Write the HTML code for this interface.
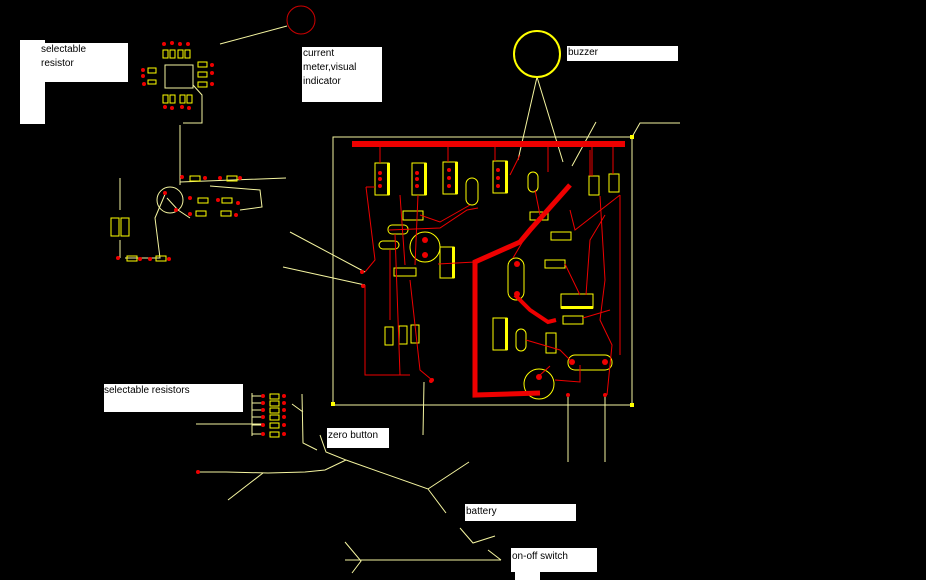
<!DOCTYPE html>
<html><head><meta charset="utf-8"><style>
html,body{margin:0;padding:0;background:#000;}
body{width:926px;height:580px;overflow:hidden;position:relative;font-family:"Liberation Sans",sans-serif;}
.w{position:absolute;background:#fff;}
.t{position:absolute;font-size:10px;color:#000;line-height:14px;}
svg{position:absolute;left:0;top:0;}
</style></head><body>
<div class="w" style="left:20px;top:40px;width:25px;height:84px"></div>
<div class="w" style="left:20px;top:43px;width:108px;height:39px"></div>
<div class="t" style="left:41px;top:43px">selectable<br>resistor</div>
<div class="w" style="left:302px;top:47px;width:80px;height:55px"></div>
<div class="t" style="left:303px;top:47px">current<br>meter,visual<br>indicator</div>
<div class="w" style="left:567px;top:46px;width:111px;height:15px"></div>
<div class="t" style="left:568px;top:46px">buzzer</div>
<div class="w" style="left:104px;top:384px;width:139px;height:28px"></div>
<div class="t" style="left:104px;top:384px">selectable resistors</div>
<div class="w" style="left:327px;top:428px;width:62px;height:20px"></div>
<div class="t" style="left:328px;top:429px">zero button</div>
<div class="w" style="left:465px;top:504px;width:111px;height:17px"></div>
<div class="t" style="left:466px;top:505px">battery</div>
<div class="w" style="left:511px;top:548px;width:86px;height:24px"></div>
<div class="w" style="left:515px;top:570px;width:25px;height:10px"></div>
<div class="t" style="left:512px;top:550px">on-off switch</div>
<svg width="926" height="580" viewBox="0 0 926 580">
<g stroke="#f5f5a0" fill="none" stroke-width="1">
<rect x="333" y="137" width="299" height="268"/>
<path d="M220 44L287 26M537 77L518 160M537 77L563 162M596 122L572 166M632 137L640 123L680 123M290 232L365 272M283 267L365 285M424 382L423 435M568 395L568 462M605 395L605 462"/>
<path d="M320 435L326 452L346 460L325 470L305 472L268 473L226 472L198 472M263 473L228 500M346 460L428 489L469 462M428 489L446 513M460 528L473 543L495 536M488 550L501 560M345 542L361 561L352 573M345 560L501 560M302 394L303 443L317 450M292 404L303 412M196 424L263 424M252 393L252 436"/>
<path d="M252 396L263 396M252 403L263 403M252 410L263 410M252 417L263 417M252 425L263 425M252 434L263 434"/>
<path d="M180 125L180 185M183 123L202 123L202 95L193 85M166 192L155 218L160 258L125 258M167 198L178 210L190 218M180 182L286 178M210 186L260 190L262 207L240 210M120 178L120 210M120 240L120 258"/>
<rect x="165" y="65" width="28" height="23"/>
<circle cx="170" cy="200" r="13"/>
</g>
<circle cx="537" cy="54" r="23" stroke="#ff0" fill="none" stroke-width="2"/>
<g fill="#fff" stroke="#ff0">
<rect x="375" y="163" width="14" height="32" fill="none"/>
<rect x="412" y="163" width="14" height="32" fill="none"/>
<rect x="443" y="162" width="14" height="32" fill="none"/>
<rect x="493" y="161" width="14" height="32" fill="none"/>
<rect x="440" y="247" width="14" height="31" fill="none"/>
<rect x="493" y="318" width="14" height="32" fill="none"/>
<rect x="561" y="294" width="32" height="14" fill="none"/>
<rect x="466" y="178" width="12" height="27" rx="6" fill="none"/>
<rect x="528" y="172" width="10" height="20" rx="5" fill="none"/>
<rect x="508" y="258" width="16" height="42" rx="8" fill="none"/>
<rect x="516" y="329" width="10" height="22" rx="5" fill="none"/>
<rect x="568" y="355" width="44" height="15" rx="7" fill="none"/>
<rect x="388" y="225" width="20" height="9" rx="4" fill="none"/>
<rect x="379" y="241" width="20" height="8" rx="4" fill="none"/>
<rect x="589" y="176" width="10" height="19" fill="none"/>
<rect x="609" y="174" width="10" height="18" fill="none"/>
<rect x="403" y="211" width="20" height="9" fill="none"/>
<rect x="530" y="212" width="18" height="8" fill="none"/>
<rect x="551" y="232" width="20" height="8" fill="none"/>
<rect x="545" y="260" width="20" height="8" fill="none"/>
<rect x="563" y="316" width="20" height="8" fill="none"/>
<rect x="394" y="268" width="22" height="8" fill="none"/>
<rect x="546" y="333" width="10" height="20" fill="none"/>
<rect x="385" y="327" width="8" height="18" fill="none"/>
<rect x="399" y="326" width="8" height="18" fill="none"/>
<rect x="411" y="325" width="8" height="18" fill="none"/>
<circle cx="425" cy="247" r="15" fill="none"/>
<circle cx="539" cy="384" r="15" fill="none"/>
<rect x="111" y="218" width="8" height="18" fill="none"/>
<rect x="121" y="218" width="8" height="18" fill="none"/>
<rect x="127" y="256" width="10" height="5" fill="none"/>
<rect x="156" y="256" width="10" height="5" fill="none"/>
<rect x="190" y="176" width="10" height="5" fill="none"/>
<rect x="227" y="176" width="10" height="5" fill="none"/>
<rect x="198" y="198" width="10" height="5" fill="none"/>
<rect x="222" y="198" width="10" height="5" fill="none"/>
<rect x="196" y="211" width="10" height="5" fill="none"/>
<rect x="221" y="211" width="10" height="5" fill="none"/>
</g>
<g fill="#ff0"><rect x="387" y="163" width="3" height="32"/><rect x="424" y="163" width="3" height="32"/><rect x="455" y="162" width="3" height="32"/><rect x="505" y="161" width="3" height="32"/><rect x="452" y="247" width="3" height="31"/><rect x="505" y="318" width="3" height="32"/><rect x="561" y="306" width="32" height="3"/></g>
<g stroke="#e00" fill="none">
<path d="M352 144L625 144" stroke-width="6"/>
<path d="M570 185L530 230L520 242L475 262L475 395L540 393" stroke-width="5"/>
<path d="M515 295L530 310L548 322L556 320" stroke-width="4"/>
<path d="M380 147L380 163M448 147L448 162M548 147L548 172M592 147L592 176M613 147L613 174M590 150L590 176M495 147L495 161M366 187L375 187M366 187L375 260L365 272M365 285L365 375L410 375M400 195L405 265M418 195L415 265M395 234L400 375M390 250L390 320M410 280L420 370L432 380M389 230L440 228L467 210L478 208M470 205L440 222L420 215M438 264L475 262M510 175L520 155M535 190L540 215M570 210L575 230L620 195M600 196L605 280L600 320L612 345L607 395M620 195L620 355M583 318L610 310M565 264L580 295M586 295L590 240L605 215M526 236L513 258M526 340L560 350L570 360M550 366L540 375M580 365L580 382L555 380"/>
</g>
<circle cx="301" cy="20" r="14" stroke="#c00" fill="none"/>
<g fill="#e00">
<circle cx="380" cy="173" r="2"/><circle cx="380" cy="179" r="2"/><circle cx="380" cy="186" r="2"/>
<circle cx="417" cy="173" r="2"/><circle cx="417" cy="179" r="2"/><circle cx="417" cy="186" r="2"/>
<circle cx="449" cy="170" r="2"/><circle cx="449" cy="178" r="2"/><circle cx="449" cy="186" r="2"/>
<circle cx="498" cy="170" r="2"/><circle cx="498" cy="178" r="2"/><circle cx="498" cy="186" r="2"/>
<circle cx="425" cy="240" r="3"/><circle cx="425" cy="255" r="3"/><circle cx="517" cy="264" r="3"/><circle cx="517" cy="294" r="3"/>
<circle cx="572" cy="362" r="3"/><circle cx="605" cy="362" r="3"/><circle cx="539" cy="377" r="3"/>
<circle cx="362" cy="272" r="2"/><circle cx="363" cy="286" r="2"/><circle cx="432" cy="380" r="2"/><circle cx="568" cy="395" r="2"/><circle cx="605" cy="395" r="2"/>
<circle cx="190" cy="198" r="2"/><circle cx="176" cy="210" r="2"/><circle cx="165" cy="193" r="2"/><circle cx="182" cy="177" r="2"/>
<circle cx="205" cy="178" r="2"/><circle cx="220" cy="178" r="2"/><circle cx="240" cy="178" r="2"/>
<circle cx="218" cy="200" r="2"/><circle cx="238" cy="203" r="2"/><circle cx="190" cy="214" r="2"/><circle cx="236" cy="215" r="2"/>
<circle cx="118" cy="258" r="2"/><circle cx="140" cy="259" r="2"/><circle cx="150" cy="259" r="2"/><circle cx="169" cy="259" r="2"/>
<circle cx="164" cy="44" r="2"/><circle cx="172" cy="43" r="2"/><circle cx="180" cy="44" r="2"/><circle cx="188" cy="44" r="2"/>
<circle cx="165" cy="107" r="2"/><circle cx="172" cy="108" r="2"/><circle cx="182" cy="107" r="2"/><circle cx="189" cy="108" r="2"/>
<circle cx="143" cy="70" r="2"/><circle cx="143" cy="76" r="2"/><circle cx="144" cy="84" r="2"/>
<circle cx="212" cy="65" r="2"/><circle cx="212" cy="73" r="2"/><circle cx="212" cy="84" r="2"/>
<circle cx="263" cy="396" r="2"/><circle cx="263" cy="403" r="2"/><circle cx="263" cy="410" r="2"/><circle cx="263" cy="417" r="2"/><circle cx="263" cy="425" r="2"/><circle cx="263" cy="434" r="2"/>
<circle cx="284" cy="396" r="2"/><circle cx="284" cy="403" r="2"/><circle cx="284" cy="410" r="2"/><circle cx="284" cy="417" r="2"/><circle cx="284" cy="425" r="2"/><circle cx="284" cy="434" r="2"/>
<circle cx="198" cy="472" r="2"/><circle cx="431" cy="381" r="2"/>
</g>
<g stroke="#ff0" fill="none">
<rect x="163" y="50" width="5" height="8"/><rect x="170" y="50" width="5" height="8"/><rect x="178" y="50" width="5" height="8"/><rect x="185" y="50" width="5" height="8"/>
<rect x="163" y="95" width="5" height="8"/><rect x="170" y="95" width="5" height="8"/><rect x="180" y="95" width="5" height="8"/><rect x="187" y="95" width="5" height="8"/>
<rect x="148" y="68" width="8" height="5"/><rect x="148" y="80" width="8" height="4"/><rect x="198" y="62" width="9" height="5"/><rect x="198" y="72" width="9" height="5"/><rect x="198" y="82" width="9" height="5"/>
<rect x="270" y="394" width="9" height="5"/><rect x="270" y="401" width="9" height="5"/><rect x="270" y="408" width="9" height="5"/><rect x="270" y="415" width="9" height="5"/><rect x="270" y="423" width="9" height="5"/><rect x="270" y="432" width="9" height="5"/>
</g>
<rect x="331" y="402" width="4" height="4" fill="#ff0"/><rect x="630" y="135" width="4" height="4" fill="#ff0"/><rect x="630" y="403" width="4" height="4" fill="#ff0"/>
</svg>
</body></html>
